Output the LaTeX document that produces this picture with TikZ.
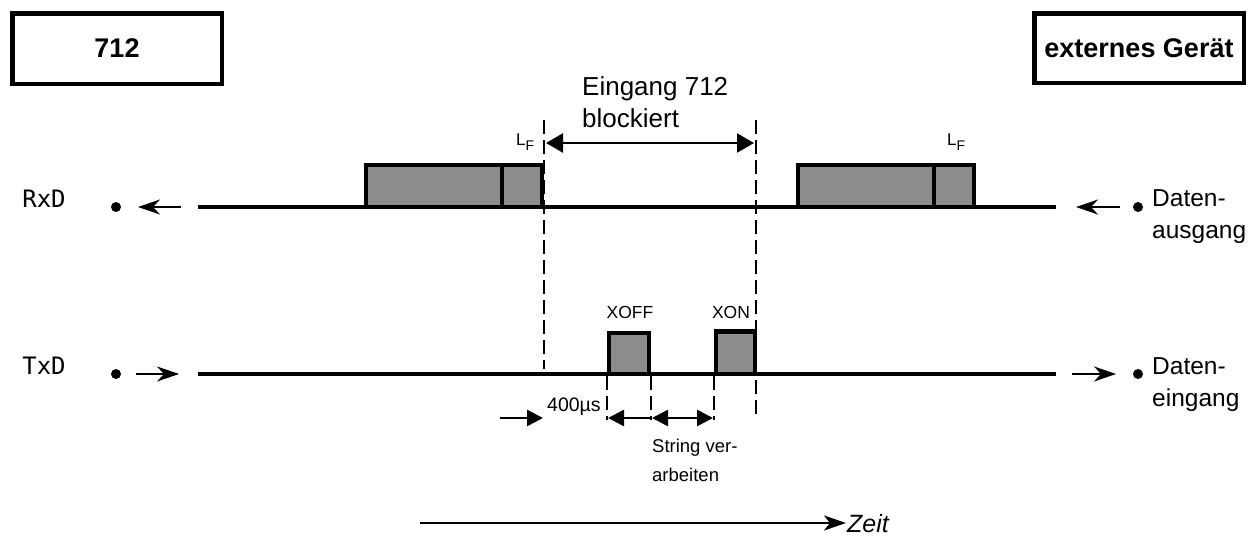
\documentclass[tikz,border=0pt]{standalone}
\usepackage{fontspec}
\setmainfont{Liberation Sans}
\newfontfamily\monof{DejaVu Sans Mono}
\usetikzlibrary{arrows.meta}
\tikzset{
  hdr/.style={draw, line width=4.5pt, minimum width=209.5pt, inner sep=0pt,
    font=\fontsize{27}{32}\selectfont\bfseries},
  sig/.style={line width=3.5pt},
  blk/.style={draw, line width=3.5pt, fill=black!45},
  vdash/.style={line width=2pt, dash pattern=on 14pt off 6pt},
  big/.style={font=\fontsize{26}{32}\selectfont, align=left, inner sep=0pt},
  side text/.style={font=\fontsize{24.5}{32}\selectfont, align=left, inner sep=0pt},
  small/.style={font=\fontsize{18.5}{29}\selectfont, align=left, inner sep=0pt},
  mono/.style={font=\fontsize{24}{28}\selectfont\monof, inner sep=0pt},
  pin/.style={circle, fill=black, inner sep=0pt, minimum size=10pt},
  side/.style={line width=2pt, -{Stealth[length=22pt,width=15pt,inset=7pt]}},
  dim/.style={line width=2.5pt, -{Triangle[length=16pt,width=16pt]}},
  dimboth/.style={line width=2.5pt, {Triangle[length=16pt,width=16pt]}-{Triangle[length=16pt,width=16pt]}},
}
\begin{document}
\begin{tikzpicture}[x=1pt,y=-1pt]
\useasboundingbox (0,0) rectangle (1255,536);

% header boxes
\node[hdr, minimum height=70.5pt] (dev) at (117,48.5) {712};
\node[hdr, minimum height=69.5pt] (ext) at (1139,48) {externes Gerät};

% signal names
\node[mono] (rxd) at (44,199) {RxD};
\node[mono] (txd) at (44,366) {TxD};

% pins
\node[pin] (rxL) at (116,207) {};
\node[pin] (txL) at (116,374) {};
\node[pin] (rxR) at (1138,207) {};
\node[pin] (txR) at (1138,374) {};

% side texts
\node[side text, anchor=north west] (aus) at (1152,189.5) {Daten-\\ausgang};
\node[side text, anchor=north west] (ein) at (1152,357.5) {Daten-\\eingang};

% side arrows
\coordinate (rxLa) at (181,207); \coordinate (rxLb) at (138,207);
\coordinate (rxRa) at (1120,207); \coordinate (rxRb) at (1076,207);
\coordinate (txLa) at (136,374); \coordinate (txLb) at (179,374);
\coordinate (txRa) at (1072,374); \coordinate (txRb) at (1116,374);
\draw[side] (rxLa) -- (rxLb);
\draw[side] (rxRa) -- (rxRb);
\draw[side] (txLa) -- (txLb);
\draw[side] (txRa) -- (txRb);

% signal lines
\coordinate (rs) at (198,207); \coordinate (re) at (1056,207);
\coordinate (ts) at (198,374); \coordinate (te) at (1056,374);
\draw[sig] (rs) -- (re);
\draw[sig] (ts) -- (te);

% RxD blocks
\draw[blk] (366,165) rectangle (542,207);
\draw[line width=3.5pt] (502,165) -- (502,207);
\draw[blk] (798,165) rectangle (974,207);
\draw[line width=3.5pt] (934,165) -- (934,207);

% TxD blocks
\draw[blk] (609,333) rectangle (649,374);
\draw[blk, line width=4.5pt] (716,331.5) rectangle (755,374);

% labels above blocks
\node[inner sep=0pt, anchor=base west, font=\fontsize{17}{20}\selectfont] (lf1) at (516,145) {L\raisebox{-5pt}{\fontsize{14}{14}\selectfont F}};
\node[inner sep=0pt, anchor=base west, font=\fontsize{17}{20}\selectfont] (lf2) at (947,145) {L\raisebox{-5pt}{\fontsize{14}{14}\selectfont F}};
\node[inner sep=0pt, font=\fontsize{17.5}{20}\selectfont] (xoff) at (630,312) {XOFF};
\node[inner sep=0pt, font=\fontsize{17.5}{20}\selectfont] (xon) at (731,312) {XON};

% blocked text
\node[big, anchor=north west] (blk) at (582,76.5) {Eingang 712\\blockiert};

% dashed lines
\coordinate (d1t) at (544,120); \coordinate (d1b) at (544,369);
\coordinate (d2t) at (756,120); \coordinate (d2b) at (756,419);
\draw[vdash] (d1t) -- (d1b);
\draw[vdash] (d2t) -- (d2b);
\draw[vdash] (607,376) -- (607,420);
\draw[vdash] (651,376) -- (651,420);
\draw[vdash] (714,376) -- (714,420);

% blocked arrow
\draw[line width=2.5pt, {Triangle[length=17pt,width=19pt]}-{Triangle[length=17pt,width=19pt]}] (546,143) -- (754,143);

% bottom arrows
\coordinate (a0) at (500,418); \coordinate (a1) at (543,418);
\draw[dim] (a0) -- (a1);
\draw[dim] (651,418) -- (608,418);
\draw[dimboth] (652,418) -- (713,418);

\node[inner sep=0pt, anchor=west, font=\fontsize{19.5}{22}\selectfont] (us) at (547,407) {400µs};
\node[small, anchor=north west] (str) at (652,439) {String ver-\\arbeiten};

% time axis
\coordinate (z0) at (420,523); \coordinate (z1) at (846,523);
\draw[line width=2.5pt, -{Stealth[length=22pt,width=15pt,inset=6pt]}] (z0) -- (z1);
\node[inner sep=0pt, anchor=base west, font=\fontsize{25}{28}\selectfont\itshape] (zeit) at (847,532) {Zeit};
\end{tikzpicture}
\end{document}
